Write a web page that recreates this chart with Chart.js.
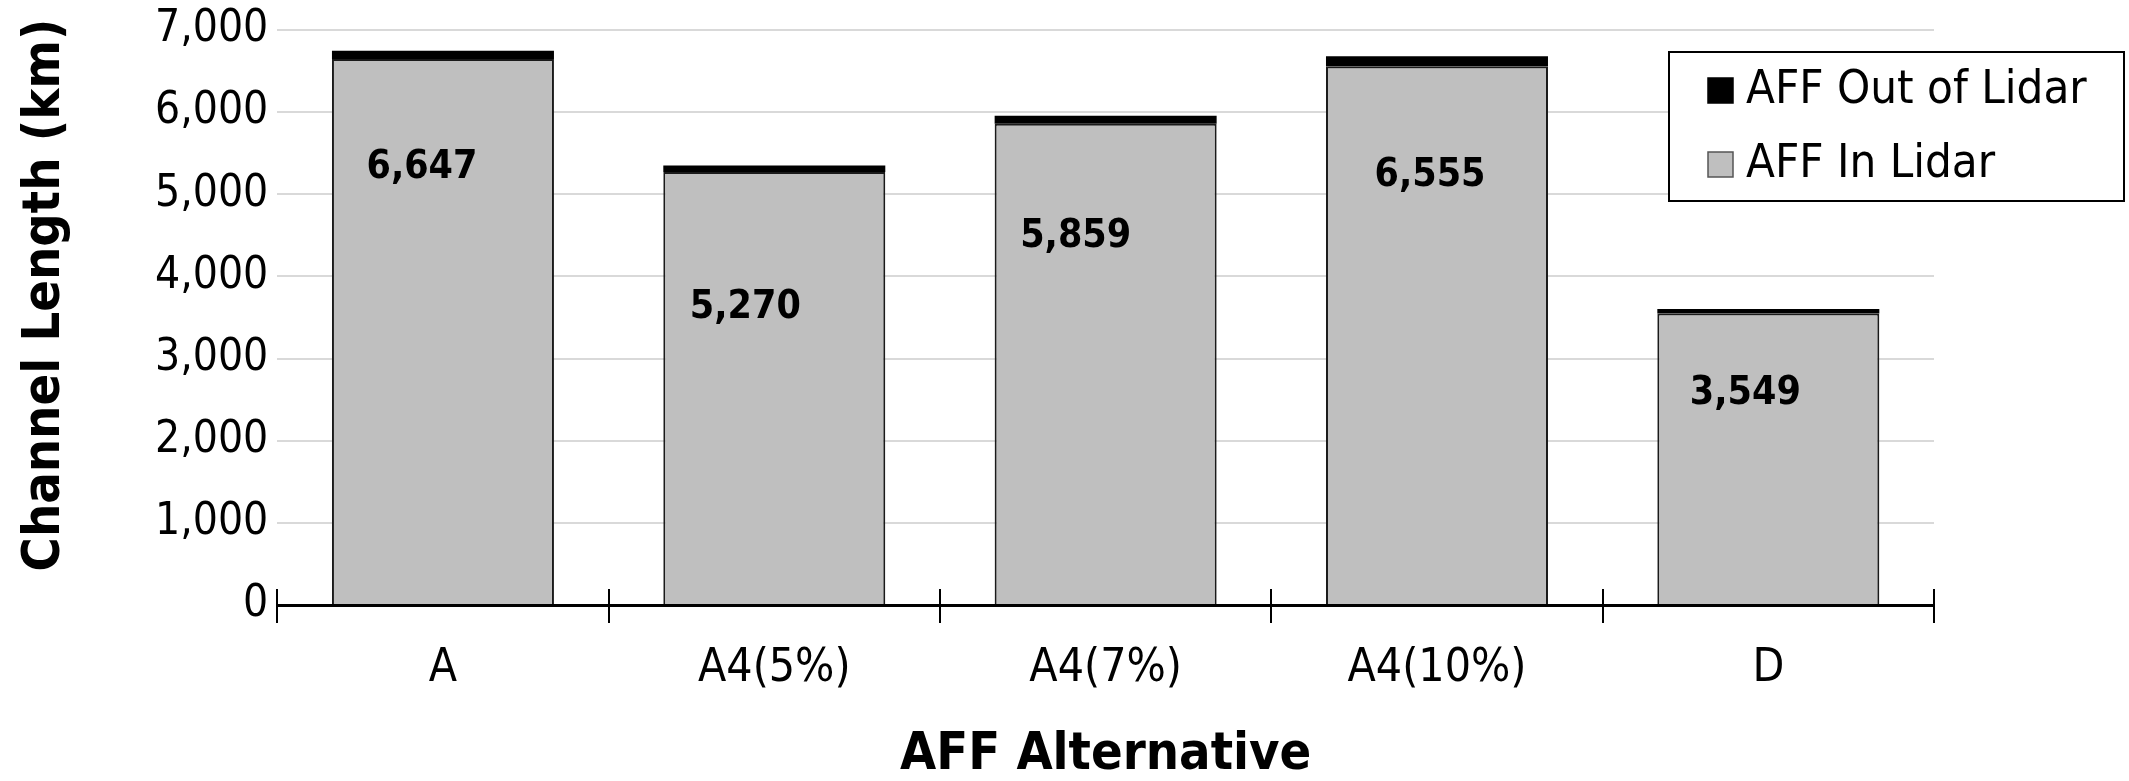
<!DOCTYPE html>
<html>
<head>
<meta charset="utf-8">
<script src="https://cdn.jsdelivr.net/npm/chart.js@4.4.1/dist/chart.umd.min.js"></script>
<style>
  html, body { margin: 0; padding: 0; background: #fff; }
  #wrap { width: 2129px; height: 781px; }
</style>
</head>
<body>
<div id="wrap"><canvas id="chart-1"></canvas></div>
<script>
const FONT = "'DejaVu Sans Condensed', 'DejaVu Sans', sans-serif";

// data
const categories = ["A", "A4(5%)", "A4(7%)", "A4(10%)", "D"];
const inLidar = [6647, 5270, 5859, 6555, 3549];
const outOfLidar = [100, 80, 95, 125, 55];
const yTicks = [0, 1000, 2000, 3000, 4000, 5000, 6000, 7000];

// where each value label sits, relative to top of the grey bar (px)
const labelNudge = [[-21, 109], [-29, 136], [-30, 113], [-7, 109], [-23, 80]];

const ctx1 = document.getElementById("chart-1");

var dataIn = {
  label: "AFF In Lidar",
  data: inLidar,
  backgroundColor: "#bfbfbf",
  borderColor: "#1a1a1a",
  borderWidth: 2,
  borderSkipped: "bottom",
};

var dataOut = {
  label: "AFF Out of Lidar",
  data: outOfLidar,
  backgroundColor: "#000000",
  borderColor: "#000000",
  borderWidth: 0,
};

// bold value labels inside the grey bars
var valueLabels = {
  id: "valueLabels",
  afterDatasetsDraw(chart) {
    const meta = chart.getDatasetMeta(0);
    const c = chart.ctx;
    c.save();
    c.font = "bold 39px " + FONT;
    c.fillStyle = "#000";
    c.textAlign = "center";
    c.textBaseline = "middle";
    meta.data.forEach((bar, i) => {
      const n = labelNudge[i] || [0, 100];
      c.fillText(inLidar[i].toLocaleString("en-US"), bar.x + n[0], bar.y + n[1]);
    });
    c.restore();
  },
};

// crossing x ticks, y title (drawn by hand so it can sit a bit high) and boxed legend
var axisAndLegend = {
  id: "axisAndLegend",
  afterDraw(chart) {
    const c = chart.ctx;
    const x = chart.scales.x;
    const y0 = chart.scales.y.getPixelForValue(0);
    const step = x.width / categories.length;
    c.save();
    c.strokeStyle = "#000";
    c.lineWidth = 2;
    for (let i = 0; i <= categories.length; i++) {
      const px = Math.round(x.left + i * step);
      c.beginPath();
      c.moveTo(px, y0 - 16);
      c.lineTo(px, y0 + 18);
      c.stroke();
    }

    // y axis title
    c.save();
    c.translate(45, 295);
    c.rotate(-Math.PI / 2);
    c.font = "bold 52px " + FONT;
    c.fillStyle = "#000";
    c.textAlign = "center";
    c.textBaseline = "middle";
    c.fillText("Channel Length (km)", 0, 0);
    c.restore();

    // legend
    const lx = chart.width - 460, ly = 52, lw = 455, lh = 149;
    c.fillStyle = "#fff";
    c.fillRect(lx, ly, lw, lh);
    c.strokeStyle = "#000";
    c.lineWidth = 2;
    c.strokeRect(lx, ly, lw, lh);
    const items = [dataOut, dataIn];
    c.font = "47px " + FONT;
    c.textBaseline = "middle";
    c.textAlign = "left";
    items.forEach((d, i) => {
      const cy = ly + 38 + i * 74;
      c.fillStyle = d.backgroundColor;
      c.fillRect(lx + 39, cy - 12, 25, 25);
      c.strokeStyle = i === 0 ? "#000" : "#555";
      c.lineWidth = 1.5;
      c.strokeRect(lx + 39, cy - 12, 25, 25);
      c.fillStyle = "#000";
      c.fillText(d.label, lx + 77, cy + 1);
    });
    c.restore();
  },
};

var chartOptions = {
  responsive: true,
  maintainAspectRatio: false,
  animation: false,
  layout: { padding: { top: 0, right: 195, left: 146, bottom: 0 } },
  plugins: {
    legend: { display: false },
    tooltip: { enabled: false },
  },
  scales: {
    x: {
      stacked: true,
      grid: { display: false, drawTicks: false },
      border: { display: true, color: "#000", width: 3 },
      ticks: { color: "#000", padding: 41, font: { family: FONT, size: 46, lineHeight: 1 } },
      title: {
        display: true,
        text: "AFF Alternative",
        color: "#000",
        font: { family: FONT, size: 52, weight: "bold", lineHeight: 1 },
        padding: { top: -4, bottom: 0 },
      },
    },
    y: {
      stacked: true,
      min: 0,
      max: 7000,
      afterBuildTicks(scale) {
        scale.ticks = yTicks.map((v) => ({ value: v }));
      },
      grid: { color: "#d9d9d9", lineWidth: 2, drawTicks: false },
      border: { display: false },
      ticks: {
        color: "#000",
        padding: 9,
        font: { family: FONT, size: 44, lineHeight: 0.95 },
        callback: (v) => v.toLocaleString("en-US"),
      },
      title: { display: false },
    },
  },
  datasets: {
    bar: { categoryPercentage: 1, barPercentage: 0.67 },
  },
};

var lineChart = new Chart(ctx1, {
  type: "bar",
  data: { labels: categories, datasets: [dataIn, dataOut] },
  options: chartOptions,
  plugins: [valueLabels, axisAndLegend],
});
</script>
</body>
</html>
